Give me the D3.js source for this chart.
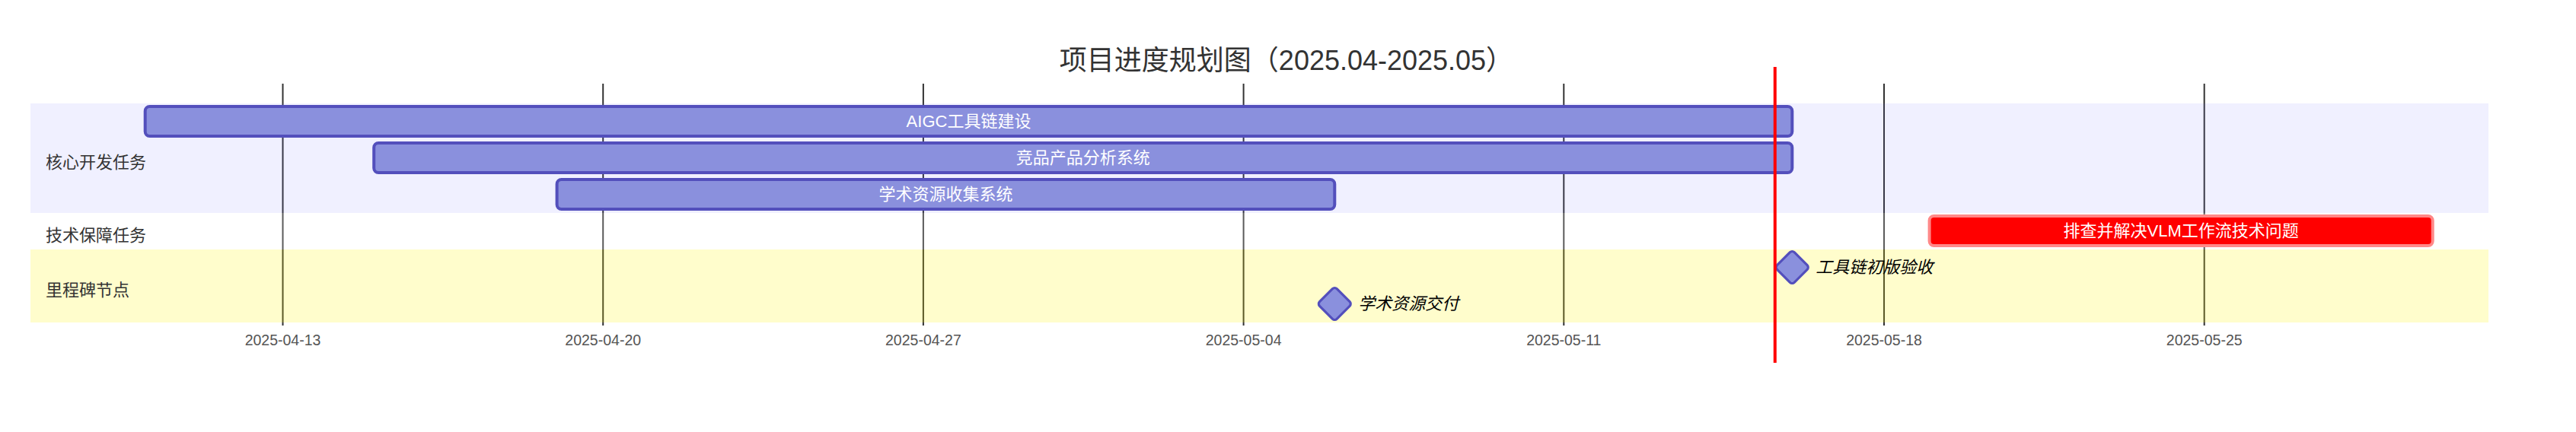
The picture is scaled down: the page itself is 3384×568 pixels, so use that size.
<!DOCTYPE html>
<html>
<head>
<meta charset="utf-8">
<script src="https://cdn.jsdelivr.net/npm/d3@7"></script>
<style>
  html, body { margin: 0; padding: 0; background: #fff; }
  svg { display: block; }
  text { font-family: "Liberation Sans", "Noto Sans CJK SC", sans-serif; }
</style>
</head>
<body>
<svg id="chart" width="3384" height="568"></svg>
<script>
// ---- data ----
const chartTitle = "项目进度规划图（2025.04-2025.05）";
const sectionNames = ["核心开发任务", "技术保障任务", "里程碑节点"];
const taskNames = ["AIGC工具链建设", "竞品产品分析系统", "学术资源收集系统", "排查并解决VLM工作流技术问题", "工具链初版验收", "学术资源交付"];
const taskSection = [0, 0, 0, 1, 2, 2];
const taskStart = ["2025-04-10", "2025-04-15", "2025-04-19", "2025-05-19", "2025-05-16", "2025-05-06"];
const taskEnd   = ["2025-05-16", "2025-05-16", "2025-05-06", "2025-05-30", "2025-05-16", "2025-05-06"];
const taskKind  = ["normal", "normal", "normal", "crit", "milestone", "milestone"];
const tickLabels = ["2025-04-13", "2025-04-20", "2025-04-27", "2025-05-04", "2025-05-11", "2025-05-18", "2025-05-25"];
const todayDate = "2025-05-15T15:00";

// ---- layout ----
const parse = d3.timeParse("%Y-%m-%d");
const parseT = d3.timeParse("%Y-%m-%dT%H:%M");
const svg = d3.select("#chart");

const starts = taskStart.map(parse), ends = taskEnd.map(parse);
const x = d3.scaleTime()
  .domain([d3.min(starts), d3.max(ends)])
  .range([190.7, 3195.7]);

const rowTop = 136, rowH = 48;
const y = d3.scaleBand().domain(d3.range(taskNames.length)).range([rowTop, rowTop + rowH * taskNames.length]).padding(0);
const barOff = 4, barH = 39;

const secX0 = 40, secX1 = 3269;
const gridTop = 110, axisY = 428;

// grid lines (drawn below section backgrounds)
const tickDates = tickLabels.map(parse);
const axis = d3.axisBottom(x).tickValues(tickDates).tickFormat(d3.timeFormat("%Y-%m-%d"))
  .tickSize(-(axisY - gridTop)).tickPadding(0);
const gAxis = svg.append("g").attr("transform", `translate(0,${axisY})`).call(axis);
gAxis.select(".domain").remove();
gAxis.selectAll(".tick line").attr("stroke", "#333").attr("stroke-width", 2);
gAxis.selectAll(".tick text")
  .attr("y", 26).attr("dy", 0)
  .attr("fill", "#555")
  .style("font-size", "19.5px")
  .style("font-family", "'Liberation Sans', sans-serif");

// section backgrounds
const secColors = ["rgba(102,102,255,0.49)", "#ffffff", "#fff400"];
const secRange = sectionNames.map((s, i) => {
  const idx = d3.range(taskNames.length).filter(k => taskSection[k] === i);
  return [d3.min(idx), d3.max(idx)];
});
svg.append("g").selectAll("rect").data(sectionNames).join("rect")
  .attr("x", secX0)
  .attr("width", secX1 - secX0)
  .attr("y", (d, i) => y(secRange[i][0]))
  .attr("height", (d, i) => y(secRange[i][1]) + rowH - y(secRange[i][0]))
  .attr("fill", (d, i) => secColors[i])
  .attr("opacity", 0.2);

// section labels
svg.append("g").selectAll("text").data(sectionNames).join("text")
  .attr("x", 60)
  .attr("y", (d, i) => (y(secRange[i][0]) + y(secRange[i][1]) + rowH) / 2 + 5)
  .attr("dy", "0.35em")
  .attr("fill", "#333")
  .style("font-size", "22px")
  .text(d => d);

// task bars
const bars = d3.range(taskNames.length).filter(i => taskKind[i] !== "milestone");
const gBars = svg.append("g");
gBars.selectAll("rect").data(bars).join("rect")
  .attr("x", i => x(starts[i]))
  .attr("width", i => x(ends[i]) - x(starts[i]))
  .attr("y", i => y(i) + barOff)
  .attr("height", barH)
  .attr("rx", 6).attr("ry", 6)
  .attr("fill", i => taskKind[i] === "crit" ? "#ff0000" : "#8a90dd")
  .attr("stroke", i => taskKind[i] === "crit" ? "#ff8888" : "#534fbc")
  .attr("stroke-width", 4);
gBars.selectAll("text").data(bars).join("text")
  .attr("x", i => (x(starts[i]) + x(ends[i])) / 2)
  .attr("y", i => y(i) + barOff + barH / 2)
  .attr("dy", "0.36em")
  .attr("text-anchor", "middle")
  .attr("fill", "#fff")
  .style("font-size", "22px")
  .text(i => taskNames[i]);

// milestones
const ms = d3.range(taskNames.length).filter(i => taskKind[i] === "milestone");
const gMs = svg.append("g");
gMs.selectAll("rect").data(ms).join("rect")
  .attr("x", -20).attr("y", -20).attr("width", 40).attr("height", 40)
  .attr("rx", 5).attr("ry", 5)
  .attr("transform", i => `translate(${x(starts[i])},${y(i) + barOff + barH / 2}) rotate(45) scale(0.8)`)
  .attr("fill", "#8a90dd")
  .attr("stroke", "#534fbc")
  .attr("stroke-width", 4);
gMs.selectAll("text").data(ms).join("text")
  .attr("x", i => x(starts[i]) + 31)
  .attr("y", i => y(i) + barOff + barH / 2)
  .attr("dy", "0.36em")
  .attr("fill", "#000")
  .style("font-size", "22px")
  .style("font-style", "italic")
  .text(i => taskNames[i]);

// today marker
const tx = x(parseT(todayDate));
svg.append("line")
  .attr("x1", tx).attr("x2", tx)
  .attr("y1", 88).attr("y2", 477)
  .attr("stroke", "#ff0000")
  .attr("stroke-width", 4);

// title
svg.append("text")
  .attr("x", 1690).attr("y", 92)
  .attr("text-anchor", "middle")
  .attr("fill", "#333")
  .style("font-size", "36px")
  .text(chartTitle);
</script>
</body>
</html>
